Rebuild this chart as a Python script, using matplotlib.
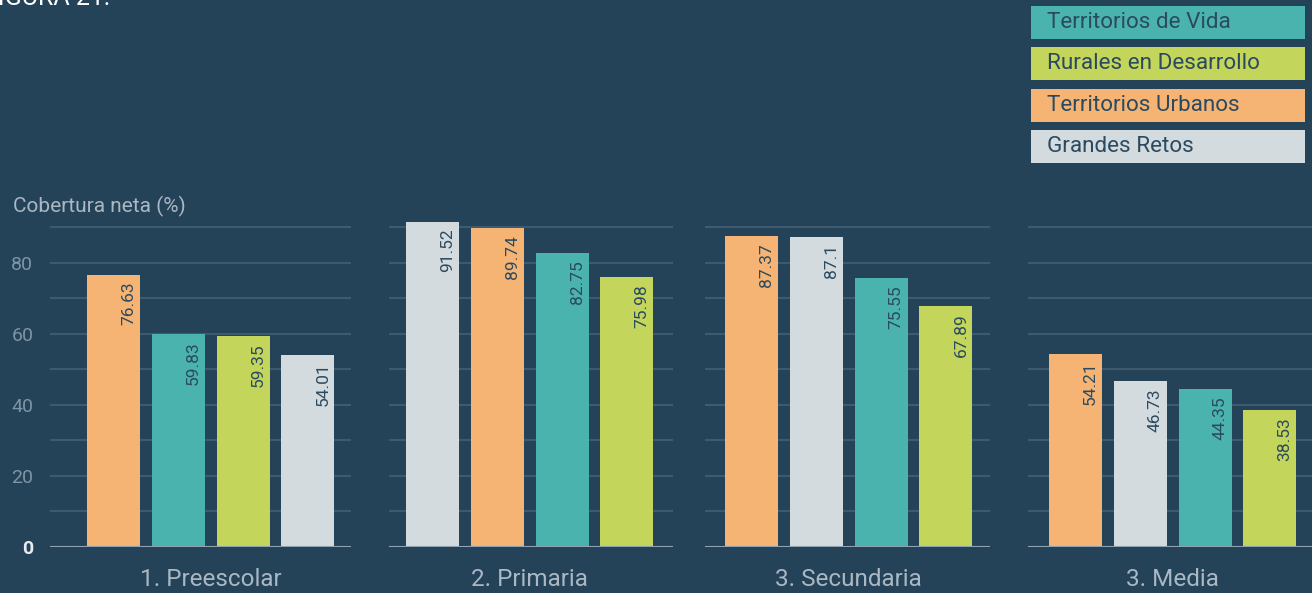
import matplotlib.pyplot as plt
from matplotlib.patches import Rectangle

plt.rcParams['font.family'] = ['Roboto', 'DejaVu Sans']

# datos
niveles = ['1. Preescolar', '2. Primaria', '3. Secundaria', '3. Media']
series = ['Territorios de Vida', 'Rurales en Desarrollo', 'Territorios Urbanos', 'Grandes Retos']
territorios_vida = [59.83, 82.75, 75.55, 44.35]
rurales_desarrollo = [59.35, 75.98, 67.89, 38.53]
territorios_urbanos = [76.63, 89.74, 87.37, 54.21]
grandes_retos = [54.01, 91.52, 87.1, 46.73]

colores = {'Territorios de Vida': '#4ab3ad',
           'Rurales en Desarrollo': '#c4d55b',
           'Territorios Urbanos': '#f5b474',
           'Grandes Retos': '#d4dbdf'}

valores = {'Territorios de Vida': territorios_vida,
           'Rurales en Desarrollo': rurales_desarrollo,
           'Territorios Urbanos': territorios_urbanos,
           'Grandes Retos': grandes_retos}

BG = '#244258'
GRID = '#3d5b70'
W, H = 1312, 593

fig = plt.figure(figsize=(W / 100, H / 100), dpi=100)
fig.patch.set_facecolor(BG)

# paneles en pixeles: (izquierda, derecha, centro de la primera barra)
paneles = [(50, 351, 113.5), (389, 673, 432.5), (705, 990, 751.5), (1028, 1312, 1075.5)]
paso = 64.8
y0 = 547
px_unidad = 3.555
ymax = 95

for k, (xl, xr, c0) in enumerate(paneles):
    ax = fig.add_axes([xl / W, (H - y0) / H, (xr - xl) / W, ymax * px_unidad / H])
    ax.set_facecolor(BG)
    orden = sorted(series, key=lambda s: valores[s][k], reverse=True)
    for i, s in enumerate(orden):
        v = valores[s][k]
        ax.bar(i, v, width=53 / paso, color=colores[s], zorder=3)
        ax.text(i + 15 / paso, v - 2, str(v), rotation=90, ha='center', va='top',
                fontsize=12.5, color='#2b4a60', zorder=4)
    ax.set_xlim(-(c0 - xl) / paso, (xr - c0) / paso)
    ax.set_ylim(0, ymax)
    ax.set_yticks(range(0, 100, 10))
    ax.grid(axis='y', color=GRID, linewidth=1.5, zorder=0)
    ax.axhline(0, color='#8fa3b2', linewidth=1.5, zorder=5)
    for sp in ax.spines.values():
        sp.set_visible(False)
    ax.set_xticks([1.5])
    ax.set_xticklabels([niveles[k]], fontsize=17.5, color='#a9b8c3')
    ax.tick_params(axis='x', length=0, pad=15)
    ax.tick_params(axis='y', length=0, pad=12)
    if k == 0:
        etiquetas = []
        for t in range(0, 100, 10):
            if t == 0:
                etiquetas.append('0')
            elif t % 20 == 0 and t <= 80:
                etiquetas.append(str(t))
            else:
                etiquetas.append('')
        ax.set_yticklabels(etiquetas, fontsize=14, color='#7d95a5')
        lab0 = ax.get_yticklabels()[0]
        lab0.set_color('#e6ecf0')
        lab0.set_fontweight('bold')
    else:
        ax.set_yticklabels([])

fig.text(13 / W, 1 - 206 / H, 'Cobertura neta (%)', fontsize=15, color='#a9b8c3',
         va='center', ha='left')
fig.text(-16 / W, 1 - 5 / H, 'FIGURA 21:', fontsize=18, color='white',
         va='baseline', ha='left')

# leyenda
cajas = [(6, 39), (47, 80), (89, 122), (130, 163)]
for s, (ya, yb) in zip(series, cajas):
    fig.add_artist(Rectangle((1031 / W, 1 - yb / H), (1305 - 1031) / W, (yb - ya) / H,
                             transform=fig.transFigure, facecolor=colores[s],
                             edgecolor='none'))
    fig.text(1047 / W, 1 - (ya + yb) / 2 / H, s, fontsize=16.2, color='#2b4a60',
             va='center', ha='left')

fig.savefig('out.png', dpi=100, facecolor=BG)
